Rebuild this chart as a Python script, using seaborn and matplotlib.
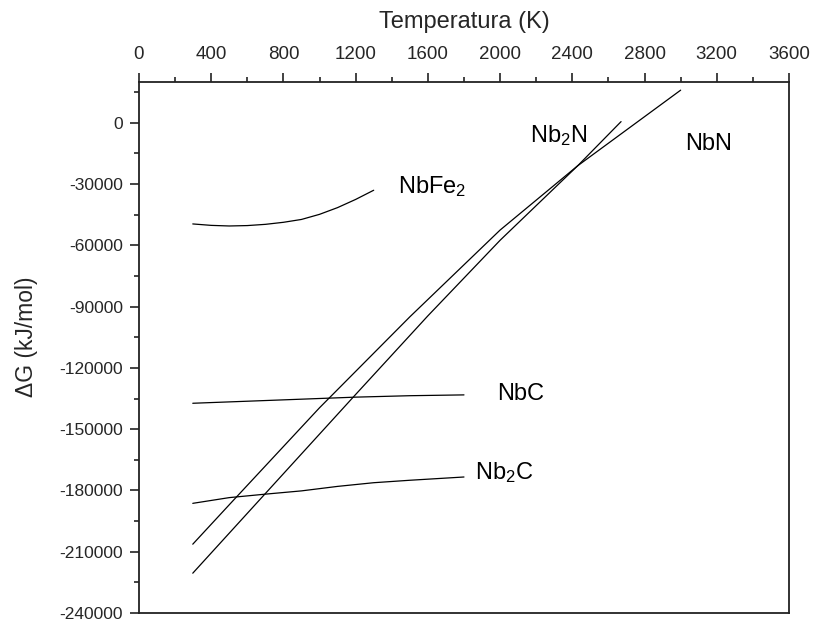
import numpy as np
import pandas as pd
import matplotlib
matplotlib.use('Agg')
import matplotlib.pyplot as plt
from matplotlib.ticker import MultipleLocator
import seaborn as sns

sns.set_style('ticks')
plt.rcParams['font.family'] = ['Liberation Sans', 'DejaVu Sans']
plt.rcParams['mathtext.fontset'] = 'custom'
plt.rcParams['mathtext.rm'] = 'Liberation Sans'
plt.rcParams['mathtext.it'] = 'Liberation Sans:italic'

# Gibbs free energy of formation vs temperature
t_nbfe2 = [298, 400, 500, 600, 700, 800, 900, 1000, 1100, 1200, 1300]
g_nbfe2 = [-49500, -50200, -50500, -50300, -49700, -48700, -47300, -44800, -41500, -37500, -33000]

t_nbc = [298, 600, 900, 1200, 1500, 1800]
g_nbc = [-137300, -136300, -135300, -134300, -133600, -133200]

t_nb2c = [298, 500, 700, 900, 1100, 1300, 1500, 1800]
g_nb2c = [-186300, -183500, -181800, -180200, -178000, -176200, -175000, -173400]

t_nbn = [298, 500, 1000, 1500, 2000, 2430, 3000]
g_nbn = [-206300, -187000, -139500, -95000, -52500, -21000, 16000]

t_nb2n = [298, 700, 1200, 1600, 2000, 2430, 2670]
g_nb2n = [-220500, -181500, -133000, -94500, -57500, -21000, 600]

series = {
    'NbFe2': (t_nbfe2, g_nbfe2),
    'NbC': (t_nbc, g_nbc),
    'Nb2C': (t_nb2c, g_nb2c),
    'NbN': (t_nbn, g_nbn),
    'Nb2N': (t_nb2n, g_nb2n),
}

# label text and where it sits (data coords)
labels = [
    ('Nb$_2$N', 2165, -6400),
    ('NbN', 3023, -10300),
    ('NbFe$_2$', 1434, -31300),
    ('NbC', 1982, -132700),
    ('Nb$_2$C', 1860, -171400),
]

fig = plt.figure(figsize=(8.16, 6.24), dpi=100)
ax = fig.add_axes([0.1703, 0.0176, 0.7966, 0.851])

for name, (t, g) in series.items():
    df = pd.DataFrame({'T': t, 'G': g})
    sns.lineplot(data=df, x='T', y='G', color='black', linewidth=0.9, ax=ax)

for txt, x, y in labels:
    ax.text(x, y, txt, fontsize=17, va='center', ha='left', color='black')

ax.set_xlim(0, 3600)
ax.set_ylim(-240000, 20000)

ax.xaxis.tick_top()
ax.xaxis.set_label_position('top')
ax.xaxis.set_major_locator(MultipleLocator(400))
ax.xaxis.set_minor_locator(MultipleLocator(200))
ax.yaxis.set_major_locator(MultipleLocator(30000))
ax.yaxis.set_minor_locator(MultipleLocator(15000))
ax.yaxis.set_major_formatter(plt.FuncFormatter(lambda v, p: '%d' % v))

ax.tick_params(which='major', length=6.5, width=1.2, color='#222222')
ax.tick_params(which='minor', length=3.6, width=1.2, color='#222222')
ax.tick_params(axis='x', which='both', top=True, bottom=False, labelsize=13.5, pad=7)
ax.tick_params(axis='y', which='both', left=True, right=False, labelsize=12.5, pad=5)

for s in ax.spines.values():
    s.set_linewidth(1.3)
    s.set_color('#222222')

ax.set_xlabel('Temperatura (K)', fontsize=17, labelpad=13)
ax.set_ylabel('ΔG (kJ/mol)', fontsize=16.5)
ax.yaxis.set_label_coords(-0.155, 0.52)

fig.savefig('out.png', dpi=100)
